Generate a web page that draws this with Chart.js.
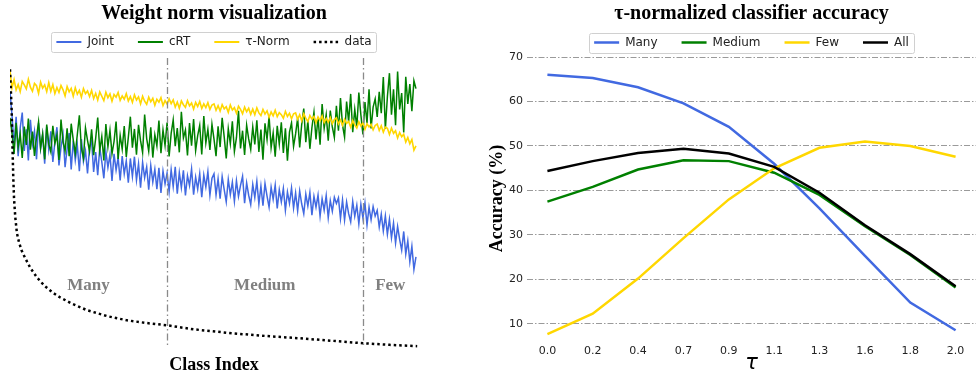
<!DOCTYPE html>
<html>
<head>
<meta charset="utf-8">
<script src="https://cdn.jsdelivr.net/npm/chart.js"></script>
<style>
  html, body { margin: 0; padding: 0; background: #fff; }
  body { width: 976px; height: 374px; position: relative; overflow: hidden; }
  canvas { position: absolute; top: 0; }
  #left { left: 0; }
  #right { left: 480px; }
</style>
</head>
<body>
<canvas id="left" width="430" height="374"></canvas>
<canvas id="right" width="496" height="374"></canvas>
<script>
// ---- left panel: weight norms per class (one value every 5 classes) ----
const jointNorm = [
  88.5, 80.2, 69.6, 79.9, 66.4, 76.1, 81.3, 68.2, 75.6, 64.9, 78.8, 70.5, 74.9, 65.3, 77.7, 69.0, 73.8, 63.8, 76.4, 68.7,
  74.9, 64.4, 71.1, 76.3, 63.2, 69.4, 73.8, 62.6, 68.9, 74.3, 61.8, 71.7, 65.0, 70.1, 61.2, 72.2, 64.6, 68.2, 60.5, 69.4,
  71.6, 61.0, 67.8, 59.9, 69.3, 64.4, 58.8, 68.0, 62.5, 66.9, 57.9, 67.2, 61.6, 65.9, 58.1, 66.4, 60.3, 64.8, 57.3, 65.6,
  59.4, 66.2, 58.2, 63.8, 55.6, 64.3, 59.0, 62.7, 54.9, 63.2, 57.5, 61.9, 55.1, 62.4, 53.8, 61.3, 56.9, 60.6, 54.2, 61.8,
  56.0, 62.7, 53.5, 60.8, 55.6, 61.5, 52.9, 59.7, 56.3, 62.0, 53.2, 59.2, 55.1, 60.4, 52.3, 59.9, 55.8, 61.1, 53.0, 58.8,
  60.3, 53.1, 58.7, 51.8, 59.4, 54.9, 50.7, 58.4, 53.2, 57.5, 50.9, 58.0, 52.6, 56.4, 59.5, 50.3, 57.2, 53.0, 49.8, 56.7,
  52.2, 57.8, 50.0, 56.1, 49.4, 57.0, 52.7, 48.9, 55.8, 51.6, 56.5, 48.5, 54.9, 50.7, 55.3, 47.8, 54.1, 50.2, 55.5, 48.6,
  53.8, 47.6, 54.5, 50.0, 46.7, 53.4, 49.3, 54.0, 46.2, 52.6, 48.9, 53.1, 45.8, 51.8, 47.9, 52.9, 45.3, 51.2, 47.5, 52.3,
  50.2, 52.1, 45.0, 51.4, 44.5, 50.7, 46.7, 43.9, 50.9, 45.8, 49.6, 43.2, 49.9, 45.2, 50.3, 42.8, 48.9, 44.6, 49.1, 45.9,
  47.8, 42.1, 46.5, 40.7, 45.9, 39.6, 44.8, 38.4, 43.5, 36.6, 42.3, 37.9, 34.2, 40.6, 32.8, 37.4, 30.2, 35.5, 27.6, 31.9
];
const crtNorm = [
  79.5, 74.2, 67.1, 77.8, 69.4, 73.9, 65.8, 76.5, 70.2, 79.3, 68.6, 74.8, 66.5, 72.9, 78.1, 69.2, 74.0, 65.3, 77.2, 70.5,
  67.9, 76.8, 70.7, 73.6, 65.1, 78.9, 71.3, 68.2, 75.9, 66.4, 77.5, 72.0, 67.3, 73.8, 80.4, 69.1, 65.7, 76.1, 71.8, 68.0,
  75.6, 66.7, 72.5, 79.6, 68.4, 73.1, 64.9, 77.4, 69.6, 75.2, 67.2, 71.4, 78.2, 65.4, 73.5, 68.8, 76.7, 66.1, 72.8, 79.9,
  69.3, 75.7, 66.9, 77.1, 71.7, 67.6, 80.6, 72.4, 68.1, 76.3, 65.9, 73.7, 69.9, 78.6, 67.4, 75.4, 70.1, 77.9, 66.3, 74.2,
  78.8, 69.8, 76.0, 67.7, 81.6, 72.6, 75.3, 66.6, 77.7, 70.0, 79.1, 68.3, 73.4, 76.9, 67.0, 80.1, 70.9, 75.6, 68.5, 77.3,
  72.2, 66.4, 76.6, 69.5, 79.5, 73.0, 65.6, 75.8, 70.6, 78.3, 68.0, 72.7, 81.9, 69.0, 75.1, 66.8, 77.0, 72.3, 68.7, 76.4,
  70.4, 78.7, 67.8, 75.5, 65.2, 77.6, 72.1, 80.0, 69.3, 74.3, 66.2, 76.8, 70.5, 78.0, 67.5, 75.9, 64.8, 74.6, 77.8, 69.7,
  74.0, 79.4, 69.4, 77.3, 82.7, 71.2, 78.5, 68.9, 76.2, 81.4, 72.1, 79.8, 70.3, 84.2, 75.9, 80.6, 71.7, 82.0, 76.4, 72.8,
  83.6, 75.1, 86.3, 77.0, 72.9, 85.1, 78.2, 87.7, 74.6, 82.4, 76.3, 88.2, 80.5, 73.8, 84.9, 77.7, 89.3, 75.9, 83.2, 86.0,
  79.8, 88.4, 81.1, 93.5, 75.7, 86.8, 94.8, 80.6, 89.3, 77.0, 95.4, 82.4, 88.0, 74.5, 93.6, 84.3, 91.1, 81.8, 92.2, 89.5
];
const tauNorm = [
  95.5, 89.8, 92.6, 89.1, 90.9, 88.5, 92.0, 90.8, 89.4, 92.7, 90.0, 88.6, 91.3, 90.5, 87.9, 91.7, 89.7, 90.8, 88.5, 91.6,
  88.6, 90.9, 87.8, 89.9, 88.2, 90.6, 89.1, 87.0, 90.2, 88.4, 89.6, 86.9, 89.8, 87.6, 88.9, 86.6, 89.5, 87.8, 88.7, 86.8,
  88.9, 86.1, 87.9, 85.6, 88.4, 86.9, 85.4, 88.3, 86.4, 87.7, 85.2, 87.5, 86.6, 88.2, 85.5, 87.0, 85.9, 87.8, 85.3, 86.8,
  84.8, 87.4, 85.6, 86.7, 84.3, 86.9, 85.2, 84.1, 86.6, 85.0, 86.2, 83.8, 85.9, 84.9, 86.4, 83.7, 85.4, 84.2, 86.0, 84.4,
  85.7, 83.2, 84.9, 82.8, 85.3, 84.0, 83.1, 85.4, 83.6, 84.6, 82.5, 84.8, 83.4, 85.1, 82.7, 84.3, 83.0, 84.7, 82.4, 83.9,
  84.3, 82.1, 83.7, 81.8, 84.0, 82.6, 83.3, 81.4, 83.9, 82.2, 83.0, 81.1, 83.5, 82.4, 80.9, 83.2, 81.6, 82.8, 80.7, 82.5,
  80.6, 82.9, 81.2, 80.3, 82.4, 80.8, 81.9, 79.7, 81.5, 80.2, 82.1, 79.9, 81.3, 80.6, 79.4, 81.7, 80.0, 81.1, 79.2, 80.9,
  81.2, 79.0, 80.6, 78.5, 80.9, 79.4, 78.2, 80.3, 79.1, 80.0, 77.8, 79.8, 78.6, 80.2, 77.9, 79.3, 78.0, 79.6, 77.5, 78.9,
  79.5, 77.4, 78.8, 76.9, 79.0, 77.6, 78.3, 76.3, 78.6, 77.1, 76.0, 78.2, 76.7, 77.8, 75.6, 77.5, 76.4, 77.3, 75.4, 76.9,
  77.4, 75.2, 76.8, 74.6, 76.3, 75.9, 73.8, 76.0, 74.2, 75.1, 72.6, 74.5, 73.0, 73.9, 71.2, 72.8, 70.6, 72.1, 68.4, 69.9
];
const normStep = 5;

// training images per class (sorted), dotted "data" curve
const dataIdx   = [0, 2, 4, 6, 8, 10, 13, 17, 22, 28, 37, 50, 66, 85, 105, 123, 150, 189, 240, 287, 335, 385, 450, 547, 630, 711, 790, 865, 930, 998];
const dataCount = [1240, 1150, 1060, 900, 760, 660, 580, 510, 470, 435, 400, 355, 313, 275, 245, 224, 198, 167, 140, 122, 110, 100, 82, 64, 52, 42, 31, 20, 13, 7];

const regionEdges = [0, 385, 864, 1000];
const regionNames = ['Many', 'Medium', 'Few'];

// ---- right panel: accuracy vs tau ----
const tauValues = [0, 0.222, 0.444, 0.667, 0.889, 1.111, 1.333, 1.556, 1.778, 2.0];
const tauLabels = ['0.0', '0.2', '0.4', '0.7', '0.9', '1.1', '1.3', '1.6', '1.8', '2.0'];
const accMany   = [66.0, 65.3, 63.2, 59.6, 54.3, 46.0, 36.0, 25.3, 14.8, 8.6];
const accMedium = [37.5, 40.8, 44.7, 46.8, 46.6, 44.0, 39.0, 32.0, 25.5, 18.2];
const accFew    = [7.7, 12.3, 20.2, 29.3, 38.0, 45.0, 49.6, 51.0, 50.0, 47.6];
const accAll    = [44.4, 46.6, 48.4, 49.4, 48.3, 45.3, 39.5, 32.2, 25.7, 18.5];
const accTicks  = [10, 20, 30, 40, 50, 60, 70];

const SERIF = '"Liberation Serif", "Times New Roman", serif';
const SANS = '"DejaVu Sans", sans-serif';
const BLUE = '#4169E1', GREEN = '#008000', GOLD = '#FFD700';

function pts(values, step) {
  return values.map((v, k) => ({ x: k * step, y: v }));
}

// put title + legend over the plot area and draw the legend frame
const frame = {
  id: 'frame',
  afterLayout(chart, args, opts) {
    const a = chart.chartArea;
    const t = chart.titleBlock, lg = chart.legend;
    [t, lg].forEach(b => { b.left = a.left; b.right = a.right; b.width = a.right - a.left; });
    const pad = lg.options.labels.padding, fs = lg.options.labels.font.size;
    lg.top = opts.legendY - pad - fs / 2;
    lg.bottom = opts.legendY + 12;
    lg.height = lg.bottom - lg.top;
  },
  afterDraw(chart, args, opts) {
    const lg = chart.legend, ctx = chart.ctx;
    const pad = lg.options.labels.padding;
    const w = lg.lineWidths[0];
    const x0 = (lg.left + pad + lg.right - w) / 2;
    ctx.save();
    ctx.strokeStyle = '#d0d0d0';
    ctx.lineWidth = 1;
    ctx.beginPath();
    ctx.roundRect(Math.round(x0 - 5) + 0.5, Math.round(opts.legendY - 10) + 0.5, Math.round(w - pad + 10), 20, 2);
    ctx.stroke();
    ctx.restore();
  }
};

const regions = {
  id: 'regions',
  afterDatasetsDraw(chart) {
    const { ctx, chartArea: a, scales: { x, y } } = chart;
    ctx.save();
    ctx.strokeStyle = '#8a8a8a';
    ctx.lineWidth = 1.3;
    ctx.setLineDash([7, 3, 1.5, 3]);
    regionEdges.slice(1, -1).forEach(v => {
      const px = Math.round(x.getPixelForValue(v)) + 0.5;
      ctx.beginPath();
      ctx.moveTo(px, a.top);
      ctx.lineTo(px, a.bottom - 2);
      ctx.stroke();
    });
    ctx.setLineDash([]);
    ctx.fillStyle = '#808080';
    ctx.font = 'bold 17px ' + SERIF;
    ctx.textAlign = 'center';
    ctx.textBaseline = 'middle';
    regionNames.forEach((n, k) => {
      ctx.fillText(n, x.getPixelForValue((regionEdges[k] + regionEdges[k + 1]) / 2), y.getPixelForValue(22));
    });
    ctx.restore();
  }
};

function legendOpts() {
  return {
    display: true,
    maxHeight: 32,
    labels: {
      usePointStyle: true,
      pointStyle: 'line',
      pointStyleWidth: 25,
      padding: 24,
      color: '#222',
      font: { family: SANS, size: 12 },
      sort: (a, b) => a.datasetIndex - b.datasetIndex,
      generateLabels: chart => Chart.defaults.plugins.legend.labels.generateLabels(chart).map(l => {
        const ds = chart.data.datasets[l.datasetIndex];
        l.lineDash = ds.borderDash || [];
        l.lineWidth = ds.legendWidth || ds.borderWidth;
        return l;
      })
    }
  };
}

new Chart(document.getElementById('left'), {
  type: 'line',
  data: {
    datasets: [
      { label: 'Joint', data: pts(jointNorm, normStep), borderColor: BLUE, backgroundColor: BLUE, borderWidth: 1.5, legendWidth: 2, order: 3, yAxisID: 'y' },
      { label: 'cRT', data: pts(crtNorm, normStep), borderColor: GREEN, backgroundColor: GREEN, borderWidth: 1.5, legendWidth: 2, order: 2, yAxisID: 'y' },
      { label: 'τ-Norm', data: pts(tauNorm, normStep), borderColor: GOLD, backgroundColor: GOLD, borderWidth: 1.6, legendWidth: 2, order: 1, yAxisID: 'y' },
      { label: 'data', data: dataIdx.map((v, i) => ({ x: v, y: dataCount[i] })), borderColor: '#000', backgroundColor: '#000',
        borderWidth: 2.5, borderDash: [2.5, 3], order: 0, yAxisID: 'y2' }
    ]
  },
  options: {
    responsive: false,
    animation: false,
    devicePixelRatio: 1,
    layout: { padding: { left: 10, right: 12, top: 0, bottom: 0 } },
    elements: { point: { radius: 0 }, line: { tension: 0 } },
    scales: {
      x: {
        type: 'linear', min: 0, max: 1000,
        grid: { display: false, drawTicks: false },
        border: { display: false },
        ticks: { display: false },
        title: { display: true, text: 'Class Index', color: '#000',
          font: { family: SERIF, size: 18, weight: 'bold', lineHeight: 1 }, padding: { top: 0, bottom: 0 } },
        afterFit: s => { s.height = 24; }
      },
      y: { min: 0, max: 100, display: false },
      y2: { min: -10, max: 1290, display: false }
    },
    plugins: {
      title: { display: true, text: 'Weight norm visualization', color: '#000',
        font: { family: SERIF, size: 20, weight: 'bold', lineHeight: 1.2 }, padding: { top: 2, bottom: 0 } },
      legend: legendOpts(),
      tooltip: { enabled: false },
      frame: { legendY: 42 }
    }
  },
  plugins: [frame, regions]
});

const rightLegend = legendOpts();
rightLegend.maxHeight = 31;

new Chart(document.getElementById('right'), {
  type: 'line',
  data: {
    datasets: [
      { label: 'Many', data: tauValues.map((t, i) => ({ x: t, y: accMany[i] })), borderColor: BLUE, backgroundColor: BLUE, borderWidth: 2.5, order: 3 },
      { label: 'Medium', data: tauValues.map((t, i) => ({ x: t, y: accMedium[i] })), borderColor: GREEN, backgroundColor: GREEN, borderWidth: 2.5, order: 2 },
      { label: 'Few', data: tauValues.map((t, i) => ({ x: t, y: accFew[i] })), borderColor: GOLD, backgroundColor: GOLD, borderWidth: 2.5, order: 1 },
      { label: 'All', data: tauValues.map((t, i) => ({ x: t, y: accAll[i] })), borderColor: '#000', backgroundColor: '#000', borderWidth: 2.5, order: 0 }
    ]
  },
  options: {
    responsive: false,
    animation: false,
    devicePixelRatio: 1,
    layout: { padding: 0 },
    elements: { point: { radius: 0 }, line: { tension: 0 } },
    scales: {
      x: {
        type: 'linear', min: -0.1, max: 2.1,
        grid: { display: false, drawTicks: false },
        border: { display: false },
        afterBuildTicks: s => { s.ticks = tauValues.map(v => ({ value: v })); },
        ticks: { callback: (v, i) => tauLabels[i], autoSkip: false, maxRotation: 0,
          color: '#222', font: { family: SANS, size: 11 }, padding: 5 },
        title: { display: true, text: 'τ', color: '#000',
          font: { family: SANS, size: 21, style: 'italic', lineHeight: 1 }, padding: { top: 0, bottom: 0 } },
        afterFit: s => { s.height = 34; }
      },
      y: {
        min: 6.4, max: 70,
        afterBuildTicks: s => { s.ticks = accTicks.map(v => ({ value: v })); },
        grid: { color: '#9a9a9a', lineWidth: 1, drawTicks: false },
        border: { display: false, dash: [6, 2, 1.5, 2] },
        ticks: { color: '#222', font: { family: SANS, size: 11 }, padding: 4 },
        title: { display: true, text: 'Accuracy (%)', color: '#000',
          font: { family: SERIF, size: 18, weight: 'bold', lineHeight: 1 }, padding: { top: 8, bottom: 0 } },
        afterFit: s => { s.width = 47; }
      }
    },
    plugins: {
      title: { display: true, text: 'τ-normalized classifier accuracy', color: '#000',
        font: { family: SERIF, size: 20, weight: 'bold', lineHeight: 1.2 }, padding: { top: 2, bottom: 0 } },
      legend: rightLegend,
      tooltip: { enabled: false },
      frame: { legendY: 42.5 }
    }
  },
  plugins: [frame]
});
</script>
</body>
</html>
